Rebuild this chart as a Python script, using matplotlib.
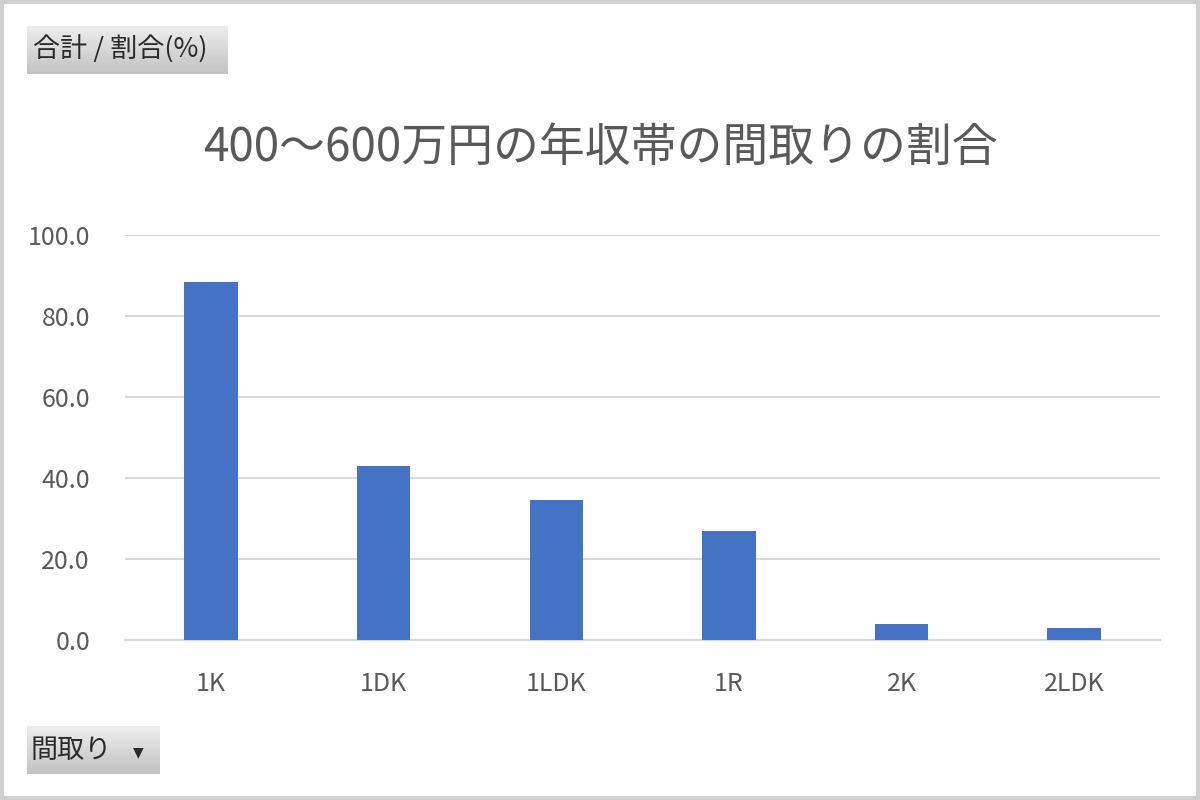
import numpy as np
import matplotlib.pyplot as plt
from matplotlib.patches import Rectangle

plt.rcParams['font.family'] = ['Noto Sans CJK JP', 'DejaVu Sans']

# 間取り and its share (%)
madori = ['1K', '1DK', '1LDK', '1R', '2K', '2LDK']
wariai = [88.5, 43.0, 34.7, 26.9, 3.9, 2.9]
yticks = [0, 20, 40, 60, 80, 100]

fig = plt.figure(figsize=(12, 8), dpi=100)
fig.patch.set_facecolor('white')

ax = fig.add_axes([0.104, 0.2, 0.863, 0.506])
x = np.arange(len(madori))
ax.bar(x, wariai, width=0.31, color='#4472C4', zorder=3)
ax.set_xlim(-0.5, len(madori) - 0.5)
ax.set_ylim(0, 100)
ax.set_yticks(yticks)
ax.set_yticklabels(['%.1f' % v for v in yticks])
ax.set_xticks(x)
ax.set_xticklabels(madori)
ax.tick_params(axis='both', length=0, labelsize=18, colors='#595959')
ax.tick_params(axis='y', pad=25)
ax.tick_params(axis='x', pad=22)
ax.grid(axis='y', color='#D9D9D9', linewidth=1.5, zorder=0)
for s in ['left', 'right', 'top']:
    ax.spines[s].set_visible(False)
ax.spines['bottom'].set_color('#D9D9D9')
ax.spines['bottom'].set_linewidth(1.5)

fig.text(0.5, 0.815, '400〜600万円の年収帯の間取りの割合', ha='center', va='center',
         fontsize=33, color='#595959')


# gray field buttons like the pivot chart
def button(x0, y0, w, h, label):
    bax = fig.add_axes([x0 / 1200, 1 - (y0 + h) / 800, w / 1200, h / 800])
    grad = np.linspace(0.93, 0.76, 50).reshape(-1, 1)
    bax.imshow(grad, cmap='gray', vmin=0, vmax=1, aspect='auto', extent=[0, 1, 0, 1])
    bax.set_xlim(0, 1)
    bax.set_ylim(0, 1)
    bax.axis('off')
    bax.text(0.03, 0.5, label, ha='left', va='center', fontsize=19.5, color='#2b2b2b')
    return bax


button(27, 26, 201, 48, '合計 / 割合(%)')
b = button(27, 726, 133, 48, '間取り')
b.text(0.84, 0.45, '▼', ha='center', va='center', fontsize=10, color='#2b2b2b',
       family='DejaVu Sans')

# outer frame
fig.patches.append(Rectangle((0.002, 0.003), 0.996, 0.994, transform=fig.transFigure,
                             fill=False, edgecolor='#D0D0D0', linewidth=3))

fig.savefig('out.png', dpi=100)
